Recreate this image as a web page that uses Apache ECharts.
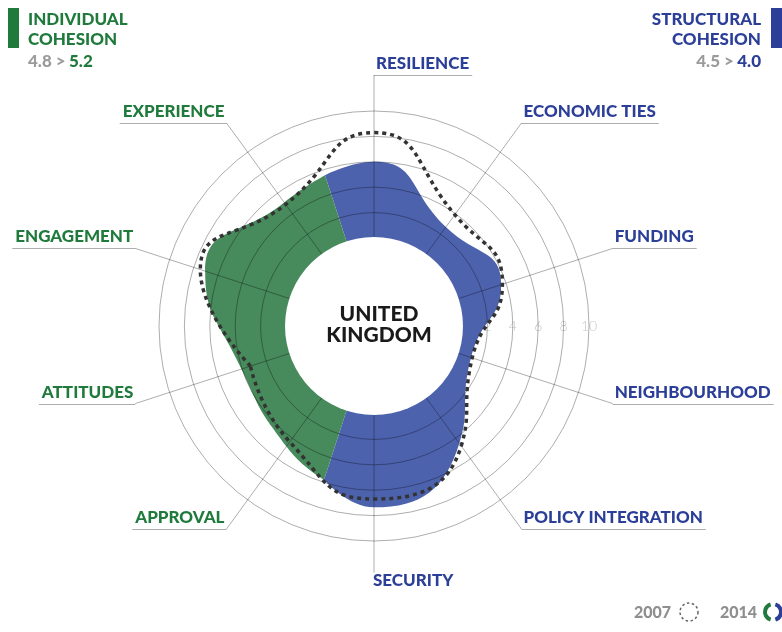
<!DOCTYPE html>
<html>
<head>
<meta charset="utf-8">
<script src="https://cdn.jsdelivr.net/npm/echarts@6/dist/echarts.min.js"></script>
<style>
  html, body { margin: 0; padding: 0; background: #fff; }
  #chart { width: 782px; height: 632px; }
</style>
</head>
<body>
<div id="chart"></div>
<script>
// categories clockwise from the top; first six are structural, last four individual
const categories = ['RESILIENCE', 'ECONOMIC TIES', 'FUNDING', 'NEIGHBOURHOOD', 'POLICY INTEGRATION',
  'SECURITY', 'APPROVAL', 'ATTITUDES', 'ENGAGEMENT', 'EXPERIENCE']
const structuralCount = 6
const values2014 = [6.0, 2.7, 3.6, 1.1, 4.5, 7.35, 4.8, 4.05, 7.05, 5.1]
const values2007 = [8.3, 3.9, 3.7, 1.2, 4.75, 6.7, 4.35, 3.3, 7.45, 4.9]
// 2014 radius read where green meets blue: [security/approval edge, experience/resilience edge]
const edgeValues2014 = [5.8, 5.55]
const radiusTicks = [0, 2, 4, 6, 8, 10]
const summary = { individual: ['4.8', '5.2'], structural: ['4.5', '4.0'] }
const years = ['2007', '2014']

const blue = '#4d62ad'
const green = '#478a5b'
const blueText = '#2c3f98'
const greenText = '#1f7a3c'
const gridColor = 'rgba(0,0,0,0.32)'
const font = 'Lato, "Open Sans", sans-serif'
const smooth = 0.55

const cx = 374, cy = 326
const innerR = 88, ringR = 215, spokeR = 251

// polar 0 has 0 at 3 o'clock going clockwise, so that the value labels sit on the right
const n = categories.length
const step = 360 / n
const toAngle = deg => ((deg + 270) % 360 + 360) % 360
const catDeg = categories.map((c, i) => i * step)

const lowEdge = toAngle(catDeg[structuralCount - 1] + step / 2)
const highEdge = toAngle(-step / 2)

const blueData = [[edgeValues2014[1], highEdge]]
  .concat(values2014.slice(0, structuralCount).map((v, i) => [v, toAngle(catDeg[i])]))
  .concat([[edgeValues2014[0], lowEdge]])
const greenData = [[edgeValues2014[0], lowEdge]]
  .concat(values2014.slice(structuralCount).map((v, i) => [v, toAngle(catDeg[i + structuralCount])]))
  .concat([[edgeValues2014[1], highEdge]])
// close the 2007 loop at ATTITUDES, where the curve runs almost straight
const loopStart = 7
const data2007 = []
for (let k = 0; k <= n; k++) {
  const i = (loopStart + k) % n
  data2007.push([values2007[i], toAngle(catDeg[i])])
}

const ctx = document.createElement('canvas').getContext('2d')
const textWidth = (t, f) => { ctx.font = f; return ctx.measureText(t).width }

const labelFont = '900 17px ' + font
const graphics = []

// category labels with leader lines
categories.forEach((name, i) => {
  const a = catDeg[i] * Math.PI / 180
  const ex = cx + spokeR * Math.sin(a)
  const ey = Math.round(cy - spokeR * Math.cos(a)) + 0.5
  const color = i < structuralCount ? blueText : greenText
  if (catDeg[i] === 180) {
    graphics.push({
      type: 'text', x: ex - 1, y: ey - 5, z: 20,
      style: { text: name, font: labelFont, fill: color, align: 'left', verticalAlign: 'top', backgroundColor: '#fff', padding: [0, 2, 0, 0] }
    })
    return
  }
  const w = textWidth(name, labelFont)
  const right = catDeg[i] < 180
  graphics.push({
    type: 'line',
    shape: { x1: ex, y1: ey, x2: right ? ex + w + 5 : ex - w - 5, y2: ey },
    style: { stroke: gridColor, lineWidth: 1 }
  })
  graphics.push({
    type: 'text', x: right ? ex + 2 : ex - 2, y: ey - 3,
    style: { text: name, font: labelFont, fill: color, align: right ? 'left' : 'right', verticalAlign: 'bottom' }
  })
})

// headers
graphics.push(
  { type: 'rect', shape: { x: 8, y: 8, width: 11, height: 40 }, style: { fill: greenText } },
  { type: 'text', x: 28, y: 20, style: { text: 'INDIVIDUAL', font: labelFont, fill: greenText, verticalAlign: 'middle' } },
  { type: 'text', x: 28, y: 40, style: { text: 'COHESION', font: labelFont, fill: greenText, verticalAlign: 'middle' } },
  {
    type: 'text', x: 28, y: 62,
    style: {
      text: '{a|' + summary.individual[0] + ' >} {b|' + summary.individual[1] + '}', verticalAlign: 'middle',
      rich: { a: { font: labelFont, fill: '#9b9b9b' }, b: { font: labelFont, fill: greenText } }
    }
  },
  { type: 'rect', shape: { x: 771, y: 8, width: 11, height: 40 }, style: { fill: blueText } },
  { type: 'text', x: 761, y: 20, style: { text: 'STRUCTURAL', font: labelFont, fill: blueText, align: 'right', verticalAlign: 'middle' } },
  { type: 'text', x: 761, y: 40, style: { text: 'COHESION', font: labelFont, fill: blueText, align: 'right', verticalAlign: 'middle' } },
  {
    type: 'text', x: 761, y: 62,
    style: {
      text: '{a|' + summary.structural[0] + ' >} {b|' + summary.structural[1] + '}', align: 'right', verticalAlign: 'middle',
      rich: { a: { font: labelFont, fill: '#9b9b9b' }, b: { font: labelFont, fill: blueText } }
    }
  }
)

// legend
graphics.push(
  { type: 'text', x: 671, y: 613, style: { text: years[0], font: '900 16px ' + font, fill: '#8f8f8f', align: 'right', verticalAlign: 'middle' } },
  { type: 'circle', shape: { cx: 689, cy: 612, r: 9 }, style: { fill: 'none', stroke: '#666', lineWidth: 1.5, lineDash: [2.5, 2.5] } },
  { type: 'text', x: 757, y: 613, style: { text: years[1], font: '900 16px ' + font, fill: '#8f8f8f', align: 'right', verticalAlign: 'middle' } },
  { type: 'arc', shape: { cx: 773, cy: 612, r: 8, startAngle: Math.PI / 2 + 0.3, endAngle: Math.PI * 1.5 - 0.3, clockwise: true }, style: { fill: 'none', stroke: greenText, lineWidth: 4 } },
  { type: 'arc', shape: { cx: 773, cy: 612, r: 8, startAngle: -Math.PI / 2 + 0.3, endAngle: Math.PI / 2 - 0.3, clockwise: true }, style: { fill: 'none', stroke: blueText, lineWidth: 4 } }
)

// centre hole
graphics.push(
  { type: 'circle', z: 10, shape: { cx: cx, cy: cy, r: innerR + 1 }, style: { fill: '#fff' } },
  {
    type: 'text', z: 11, x: 379, y: 325,
    style: { text: 'UNITED\nKINGDOM', font: '900 21px ' + font, fill: '#1a1a1a', align: 'center', verticalAlign: 'middle', lineHeight: 21 }
  }
)

const chart = echarts.init(document.getElementById('chart'))
chart.setOption({
  animation: false,
  backgroundColor: '#fff',
  polar: [
    { center: [cx, cy], radius: [innerR, ringR] },
    { center: [cx, cy], radius: [innerR, spokeR] }
  ],
  angleAxis: [
    { polarIndex: 0, type: 'value', min: 0, max: 360, startAngle: 0, clockwise: true, show: false },
    {
      polarIndex: 1, type: 'category', data: categories, startAngle: 90, clockwise: true, boundaryGap: false, z: 3,
      axisLine: { show: false }, axisTick: { show: false }, axisLabel: { show: false },
      splitLine: { show: true, lineStyle: { color: gridColor, width: 1 } }
    }
  ],
  radiusAxis: [
    {
      polarIndex: 0, type: 'value', min: radiusTicks[0], max: radiusTicks[radiusTicks.length - 1], interval: radiusTicks[1] - radiusTicks[0], z: 3,
      axisLine: { show: false }, axisTick: { show: false },
      axisLabel: { showMinLabel: false, margin: 0, verticalAlign: 'middle', color: 'rgba(0,0,0,0.24)', fontSize: 14, fontWeight: 300, fontFamily: 'Lato' },
      splitLine: { show: true, lineStyle: { color: gridColor, width: 1 } }
    },
    { polarIndex: 1, type: 'value', min: 0, max: 1, show: false }
  ],
  series: [
    {
      name: '2014 structural', type: 'line', coordinateSystem: 'polar', polarIndex: 0, z: 2,
      data: blueData, smooth: smooth, symbol: 'none',
      lineStyle: { width: 0 }, areaStyle: { color: blue, opacity: 1 }
    },
    {
      name: '2014 individual', type: 'line', coordinateSystem: 'polar', polarIndex: 0, z: 2,
      data: greenData, smooth: smooth, symbol: 'none',
      lineStyle: { width: 0 }, areaStyle: { color: green, opacity: 1 }
    },
    {
      name: '2007', type: 'line', coordinateSystem: 'polar', polarIndex: 0, z: 4,
      data: data2007, smooth: smooth, symbol: 'none',
      lineStyle: { color: '#333', width: 3.5, type: [4, 4] }
    }
  ],
  graphic: { elements: graphics }
})
</script>
</body>
</html>
